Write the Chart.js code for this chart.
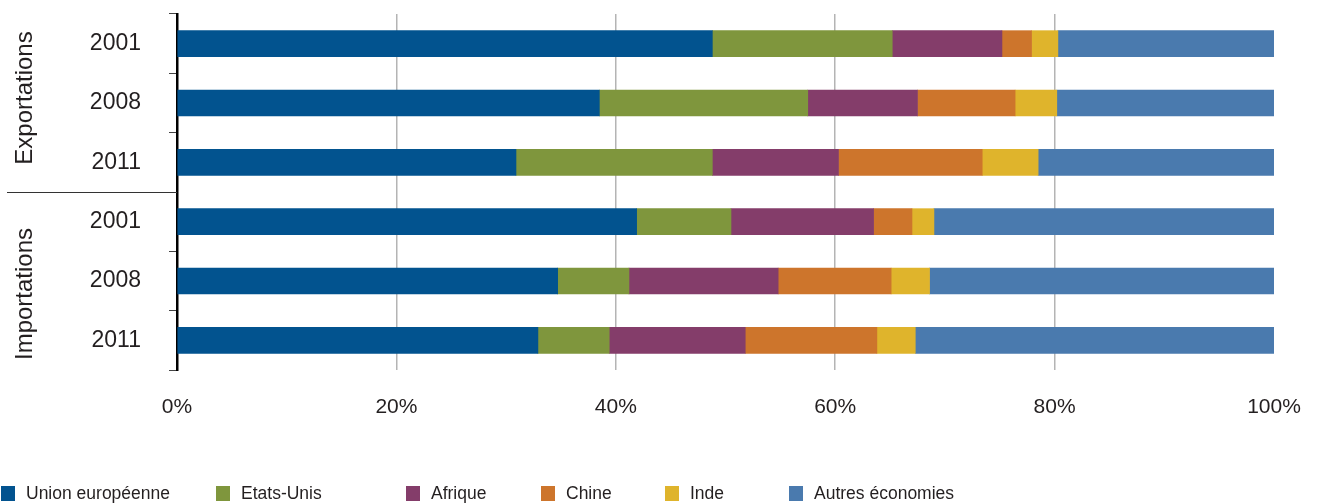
<!DOCTYPE html>
<html>
<head>
<meta charset="utf-8">
<script src="https://cdn.jsdelivr.net/npm/chart.js@4.4.0/dist/chart.umd.min.js"></script>
<style>
  html, body { margin: 0; padding: 0; background: #fff; }
  #wrap { width: 1317px; height: 504px; position: relative; }
</style>
</head>
<body>
<div id="wrap"><canvas id="graficoParts"></canvas></div>
<script>
// Données (parts en %)
const annees = ['2001', '2008', '2011', '2001', '2008', '2011'];
const groupes = ['Exportations', 'Importations'];
const ticksX = [0, 20, 40, 60, 80, 100];

const unionEuropeenne = [48.8, 38.5, 30.9, 41.9, 34.7, 32.9];
const etatsUnis       = [16.4, 19.0, 17.9, 8.6, 6.5, 6.5];
const afrique         = [10.0, 10.0, 11.5, 13.0, 13.6, 12.4];
const chine           = [2.7, 8.9, 13.1, 3.5, 10.3, 12.0];
const inde            = [2.4, 3.8, 5.1, 2.0, 3.5, 3.5];
const autres          = [19.7, 19.8, 21.5, 31.0, 31.4, 32.7];

const series = [
  { label: 'Union européenne', data: unionEuropeenne, color: '#02538f' },
  { label: 'Etats-Unis', data: etatsUnis, color: '#7f963d' },
  { label: 'Afrique', data: afrique, color: '#843d6a' },
  { label: 'Chine', data: chine, color: '#cd752c' },
  { label: 'Inde', data: inde, color: '#dfb42c' },
  { label: 'Autres économies', data: autres, color: '#4a7aae' }
];

const FONT = '"Liberation Sans", Arial, sans-serif';
const TXT = '#231f20';

// position x des entrées de légende
const legendX = [1, 216, 406, 541, 665, 789];

const extras = {
  id: 'extras',
  afterDraw(chart) {
    const { ctx, chartArea, scales } = chart;
    const y = scales.y;
    ctx.save();

    // séparateur Exportations / Importations
    const sep = (y.getPixelForValue(2) + y.getPixelForValue(3)) / 2;
    ctx.strokeStyle = '#333';
    ctx.lineWidth = 1;
    ctx.beginPath();
    ctx.moveTo(7, Math.round(sep) + 0.5);
    ctx.lineTo(chartArea.left, Math.round(sep) + 0.5);
    ctx.stroke();

    // libellés de groupe
    ctx.fillStyle = TXT;
    ctx.font = '24px ' + FONT;
    ctx.textAlign = 'center';
    ctx.textBaseline = 'middle';
    const mid1 = (chartArea.top + sep) / 2 - 5;
    const mid2 = (sep + chartArea.bottom) / 2 + 13;
    [[groupes[0], mid1], [groupes[1], mid2]].forEach(([t, cy]) => {
      ctx.save();
      ctx.translate(25, cy);
      ctx.rotate(-Math.PI / 2);
      ctx.fillText(t, 0, 0);
      ctx.restore();
    });

    // légende
    ctx.font = '17.5px ' + FONT;
    ctx.textAlign = 'left';
    series.forEach((s, i) => {
      ctx.fillStyle = s.color;
      ctx.fillRect(legendX[i], 486, 14, 15);
      ctx.fillStyle = TXT;
      ctx.fillText(s.label, legendX[i] + 25, 494);
    });
    ctx.restore();
  }
};

new Chart(document.getElementById('graficoParts'), {
  type: 'bar',
  data: {
    labels: annees,
    datasets: series.map(s => ({
      label: s.label,
      data: s.data,
      backgroundColor: s.color,
      borderWidth: 0,
      barThickness: 26
    }))
  },
  options: {
    indexAxis: 'y',
    responsive: true,
    maintainAspectRatio: false,
    animation: false,
    layout: { padding: { left: 0, right: 43, top: 14, bottom: 0 } },
    plugins: {
      legend: { display: false },
      tooltip: { enabled: false }
    },
    scales: {
      x: {
        stacked: true,
        min: 0,
        max: 100,
        afterBuildTicks: scale => { scale.ticks = ticksX.map(v => ({ value: v })); },
        afterFit: scale => {
          scale.height = 134;
          scale.paddingLeft = 0;
          scale.paddingRight = 0;
        },
        ticks: {
          callback: v => v + '%',
          color: TXT,
          font: { size: 21, family: FONT },
          padding: 25,
          maxRotation: 0
        },
        grid: {
          color: c => (c.tick && (c.tick.value === 0 || c.tick.value === 100)) ? 'rgba(0,0,0,0)' : '#b4b4b4',
          lineWidth: 1.5,
          drawTicks: false
        },
        border: { display: false }
      },
      y: {
        stacked: true,
        afterFit: scale => {
          scale.width = 177;
          scale.paddingTop = 0;
          scale.paddingBottom = 0;
        },
        ticks: {
          color: TXT,
          font: { size: 23, family: FONT },
          padding: 28
        },
        grid: {
          drawOnChartArea: false,
          drawTicks: true,
          tickLength: 8,
          color: '#444',
          lineWidth: 1
        },
        border: { display: true, color: '#000', width: 2.5 }
      }
    }
  },
  plugins: [extras]
});
</script>
</body>
</html>
